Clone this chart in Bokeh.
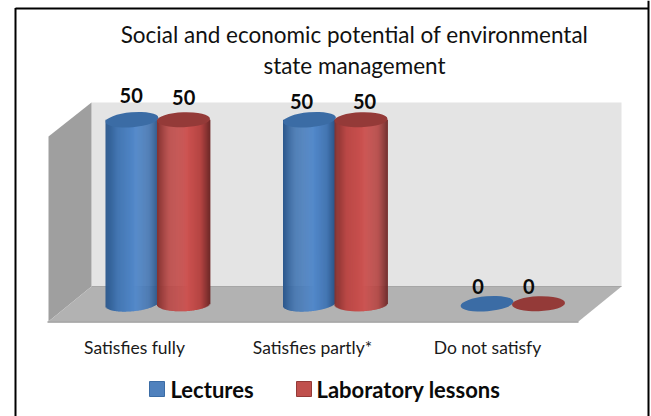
import math
from bokeh.plotting import figure
from bokeh.models import Range1d
from bokeh.core.properties import value
from bokeh.embed import file_html
from bokeh.resources import INLINE

# ---- data ----
title_lines = ["Social and economic potential of environmental", "state management"]
categories = ["Satisfies fully", "Satisfies partly*", "Do not satisfy"]
series_names = ["Lectures", "Laboratory lessons"]
lectures = [50, 50, 0]
laboratory = [50, 50, 0]

# ---- layout: pixel <-> data mapping ----
W, H = 651, 416
PX_X0, PX_PER_CAT = 157.25, 177.5   # pixel of category 0, pixels per category
PX_Y0, PX_PER_VAL = 303.3, 3.68     # pixel of value 0, pixels per value unit
def X(px): return (px - PX_X0) / PX_PER_CAT
def Y(py): return (PX_Y0 - py) / PX_PER_VAL

p = figure(width=W, height=H, output_backend="svg", toolbar_location=None,
           x_range=Range1d(X(0), X(W)), y_range=Range1d(Y(H), Y(0)),
           min_border=0)
p.axis.visible = False
p.grid.visible = False
p.outline_line_color = None
p.background_fill_color = "white"
p.border_fill_color = "white"

FONT = value("Lato")

# frame of the picture
p.line([X(15), X(15)], [Y(416), Y(7.5)], line_color="black", line_width=2)
p.line([X(15), X(648)], [Y(8), Y(8)], line_color="black", line_width=2)
p.line([X(648), X(648)], [Y(0), Y(416)], line_color="black", line_width=2)

# 3D chart box
p.patch([X(91), X(621), X(621), X(91)], [Y(102), Y(102), Y(286), Y(286)], color="#e4e4e4", line_color=None)
p.patch([X(48), X(91), X(91), X(48)], [Y(136), Y(102), Y(286), Y(321)], color="#9f9f9f", line_color=None)
p.patch([X(48), X(91), X(621), X(578)], [Y(321), Y(286), Y(286), Y(321)], color="#b2b2b2", line_color=None)
p.line([X(47), X(578)], [Y(321.5), Y(321.5)], line_color="#9a9a9a", line_width=1.5)
p.line([X(91), X(621)], [Y(286), Y(286)], line_color="#a6a6a6", line_width=1)

# cylinders
A, B = 26.5, 7.5
OFFSET = 25.75
def mix(c1, c2, t):
    return "#%02x%02x%02x" % tuple(round(c1[i] + (c2[i] - c1[i]) * t) for i in range(3))
def shade(stops, u):
    for (u0, c0), (u1, c1) in zip(stops, stops[1:]):
        if u <= u1:
            return mix(c0, c1, (u - u0) / (u1 - u0))
    return mix(stops[-1][1], stops[-1][1], 0)

blue_stops = [(-1, (44, 88, 140)), (-0.55, (68, 118, 178)), (0.15, (82, 136, 202)), (0.65, (68, 118, 178)), (1, (40, 80, 130))]
red_stops = [(-1, (132, 50, 48)), (-0.55, (186, 72, 70)), (0.15, (204, 82, 80)), (0.65, (180, 68, 66)), (1, (110, 40, 40))]

def cylinders(vals, side, stops, top_color, tilt_deg):
    t = math.tan(math.radians(tilt_deg))
    for i, v in enumerate(vals):
        cx = PX_X0 + i * PX_PER_CAT + side * OFFSET
        x_data = i + side * OFFSET / PX_PER_CAT
        if v > 0:
            n = 2 * int(A)
            for k in range(n):
                l = -A + 2 * A * k / n
                r = -A + 2 * A * (k + 1) / n
                u = (l + r) / 2 / A
                arc = B * math.sqrt(max(0, 1 - u * u)) - u * A * t
                p.quad(left=[X(cx + l)], right=[X(cx + r + 0.4)],
                       top=[v], bottom=[-arc / PX_PER_VAL],
                       fill_color=shade(stops, u), line_color=None)
        p.ellipse(x=[x_data], y=[v], width=2 * A, height=2 * B, width_units="screen",
                  height_units="screen", angle=math.radians(tilt_deg),
                  fill_color=top_color, line_color=None)

cylinders(lectures, -1, blue_stops, "#3b6ca5", 5)
cylinders(laboratory, 1, red_stops, "#943a38", 2)

# value labels
label_x = [-0.15, 0.146, 0.81, 1.165, 1.805, 2.09]
label_y = [95, 97, 101, 101, 286, 286]
label_v = [lectures[0], laboratory[0], lectures[1], laboratory[1], lectures[2], laboratory[2]]
p.text(x=label_x, y=[Y(v) for v in label_y], text=[str(v) for v in label_v],
       text_font=FONT, text_font_style="bold", text_font_size="20px",
       text_align="center", text_baseline="middle", text_color="#0a0a0a")

# title
p.text(x=[X(354), X(354)], y=[Y(34), Y(65)], text=title_lines, text_font=FONT,
       text_font_size="22.5px", text_align="center", text_baseline="middle", text_color="#111111")

# category labels
p.text(x=[X(134), X(312), X(487)], y=[Y(347)] * 3, text=categories, text_font=FONT,
       text_font_size="17.5px", text_align="center", text_baseline="middle", text_color="#1a1a1a")

# legend
p.quad(left=[X(149)], right=[X(164)], top=[Y(381)], bottom=[Y(396)], fill_color="#4f81bd", line_color="#3b6ca5")
p.quad(left=[X(296)], right=[X(311)], top=[Y(381)], bottom=[Y(396)], fill_color="#c0504d", line_color="#943a38")
p.text(x=[X(170), X(316)], y=[Y(389)] * 2, text=series_names, text_font=FONT, text_font_style="bold",
       text_font_size="22px", text_align="left", text_baseline="middle", text_color="#0a0a0a")

open("out.html", "w").write(file_html(p, INLINE))
